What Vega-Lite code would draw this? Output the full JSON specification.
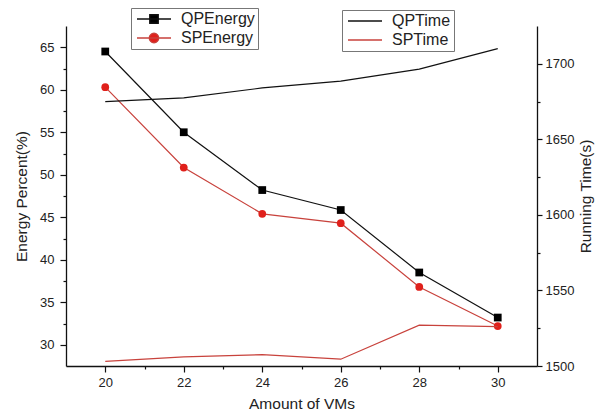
{
  "$schema": "https://vega.github.io/schema/vega-lite/v6.json",
  "width": 471,
  "height": 340,
  "autosize": {"type": "none"},
  "padding": {"left": 66, "top": 26, "right": 62, "bottom": 48},
  "background": "white",
  "config": {
    "font": "Liberation Sans",
    "view": {"stroke": null},
    "axis": {
      "grid": false,
      "domainColor": "#111111",
      "domainWidth": 1.3,
      "tickColor": "#111111",
      "tickWidth": 1.2,
      "labelColor": "#222222",
      "titleColor": "#222222",
      "titleFontWeight": "normal",
      "labelFontSize": 13,
      "titleFontSize": 15.5,
      "labelFlush": false,
      "labelOverlap": false,
      "labelBound": false
    },
    "legend": {
      "labelFontSize": 16,
      "labelColor": "#222222",
      "strokeColor": "#777777",
      "fillColor": "white",
      "padding": 3,
      "rowPadding": 3,
      "direction": "vertical",
      "orient": "none",
      "symbolSize": 100,
      "labelOffset": 31,
      "symbolStrokeWidth": 1.3
    }
  },
  "datasets": {
    "energy": [
      {"vms": 20, "series": "QPEnergy", "value": 64.5},
      {"vms": 22, "series": "QPEnergy", "value": 55.0},
      {"vms": 24, "series": "QPEnergy", "value": 48.2},
      {"vms": 26, "series": "QPEnergy", "value": 45.85},
      {"vms": 28, "series": "QPEnergy", "value": 38.5},
      {"vms": 30, "series": "QPEnergy", "value": 33.2},
      {"vms": 20, "series": "SPEnergy", "value": 60.3},
      {"vms": 22, "series": "SPEnergy", "value": 50.85},
      {"vms": 24, "series": "SPEnergy", "value": 45.4},
      {"vms": 26, "series": "SPEnergy", "value": 44.3},
      {"vms": 28, "series": "SPEnergy", "value": 36.8},
      {"vms": 30, "series": "SPEnergy", "value": 32.2}
    ],
    "time": [
      {"vms": 20, "series": "QPTime", "value": 1675},
      {"vms": 22, "series": "QPTime", "value": 1677.5},
      {"vms": 24, "series": "QPTime", "value": 1684},
      {"vms": 26, "series": "QPTime", "value": 1688.5},
      {"vms": 28, "series": "QPTime", "value": 1696.5},
      {"vms": 30, "series": "QPTime", "value": 1710},
      {"vms": 20, "series": "SPTime", "value": 1503},
      {"vms": 22, "series": "SPTime", "value": 1506},
      {"vms": 24, "series": "SPTime", "value": 1507.5},
      {"vms": 26, "series": "SPTime", "value": 1504.5},
      {"vms": 28, "series": "SPTime", "value": 1527},
      {"vms": 30, "series": "SPTime", "value": 1526}
    ]
  },
  "layer": [
    {
      "data": {"name": "energy"},
      "encoding": {
        "x": {
          "field": "vms",
          "type": "quantitative",
          "scale": {"domain": [19, 31], "nice": false, "zero": false},
          "axis": {
            "title": "Amount of VMs",
            "values": [20, 21, 22, 23, 24, 25, 26, 27, 28, 29, 30],
            "labelExpr": "datum.value % 2 == 0 ? datum.label : ''",
            "tickSize": {"condition": {"test": "datum.value % 2 != 0", "value": 3}, "value": 6},
            "labelPadding": 4,
            "titlePadding": 7
          }
        },
        "y": {
          "field": "value",
          "type": "quantitative",
          "scale": {"domain": [27.5, 67.5], "nice": false, "zero": false},
          "axis": {
            "title": "Energy Percent(%)",
            "values": [30, 32.5, 35, 37.5, 40, 42.5, 45, 47.5, 50, 52.5, 55, 57.5, 60, 62.5, 65],
            "labelExpr": "datum.value % 5 == 0 ? datum.label : ''",
            "tickSize": {"condition": {"test": "datum.value % 5 != 0", "value": 3}, "value": 6},
            "labelPadding": 6,
            "titlePadding": 10
          }
        }
      },
      "layer": [
        {
          "mark": {"type": "line", "strokeWidth": 1.2},
          "encoding": {
            "stroke": {
              "field": "series",
              "type": "nominal",
              "scale": {"domain": ["QPEnergy", "SPEnergy"], "range": ["#111111", "#c8423c"]},
              "legend": {
                "title": null,
                "legendX": 65,
                "legendY": -18,
                "encode": {
                  "symbols": {
                    "update": {
                      "shape": {"signal": "datum.value == 'QPEnergy' ? 'M-1,0H5.8M1.55,-0.85H3.25V0.85H1.55Z' : 'M-1,0H5.8M3.35,0A0.95,0.95 0 1,1 1.45,0A0.95,0.95 0 1,1 3.35,0Z'"},
                      "fill": {"signal": "datum.value == 'QPEnergy' ? '#000000' : '#e0201b'"},
                      "stroke": {"signal": "datum.value == 'QPEnergy' ? '#111111' : '#c8423c'"},
                      "opacity": {"value": 1}
                    }
                  }
                }
              }
            }
          }
        },
        {
          "mark": {"type": "point", "filled": true, "opacity": 1, "size": 60},
          "encoding": {
            "fill": {
              "field": "series",
              "type": "nominal",
              "scale": {"domain": ["QPEnergy", "SPEnergy"], "range": ["#000000", "#e0201b"]},
              "legend": null
            },
            "shape": {
              "field": "series",
              "type": "nominal",
              "scale": {"domain": ["QPEnergy", "SPEnergy"], "range": ["square", "circle"]},
              "legend": null
            }
          }
        }
      ]
    },
    {
      "data": {"name": "time"},
      "mark": {"type": "line", "strokeWidth": 1.2},
      "encoding": {
        "x": {
          "field": "vms",
          "type": "quantitative",
          "scale": {"domain": [19, 31], "nice": false, "zero": false},
          "axis": {
            "title": "Amount of VMs",
            "values": [20, 21, 22, 23, 24, 25, 26, 27, 28, 29, 30],
            "labelExpr": "datum.value % 2 == 0 ? datum.label : ''",
            "tickSize": {"condition": {"test": "datum.value % 2 != 0", "value": 3}, "value": 6},
            "labelPadding": 4,
            "titlePadding": 7
          }
        },
        "y": {
          "field": "value",
          "type": "quantitative",
          "scale": {"domain": [1500, 1725], "nice": false, "zero": false},
          "axis": {
            "orient": "right",
            "title": "Running Time(s)",
            "titleAngle": 270,
            "titleBaseline": "top",
            "format": "d",
            "values": [1500, 1525, 1550, 1575, 1600, 1625, 1650, 1675, 1700],
            "labelExpr": "datum.value % 50 == 0 ? datum.label : ''",
            "tickSize": {"condition": {"test": "datum.value % 50 != 0", "value": 3}, "value": 5},
            "labelPadding": 3,
            "titlePadding": 5
          }
        },
        "stroke": {
          "field": "series",
          "type": "nominal",
          "scale": {"domain": ["QPTime", "SPTime"], "range": ["#111111", "#c8423c"]},
          "legend": {
            "title": null,
            "legendX": 276,
            "legendY": -16,
            "encode": {
              "symbols": {
                "update": {
                  "shape": {"value": "M-1,0H5.8"},
                  "fill": {"value": "transparent"},
                  "opacity": {"value": 1}
                }
              }
            }
          }
        }
      }
    }
  ],
  "resolve": {"scale": {"y": "independent", "stroke": "independent"}}
}
